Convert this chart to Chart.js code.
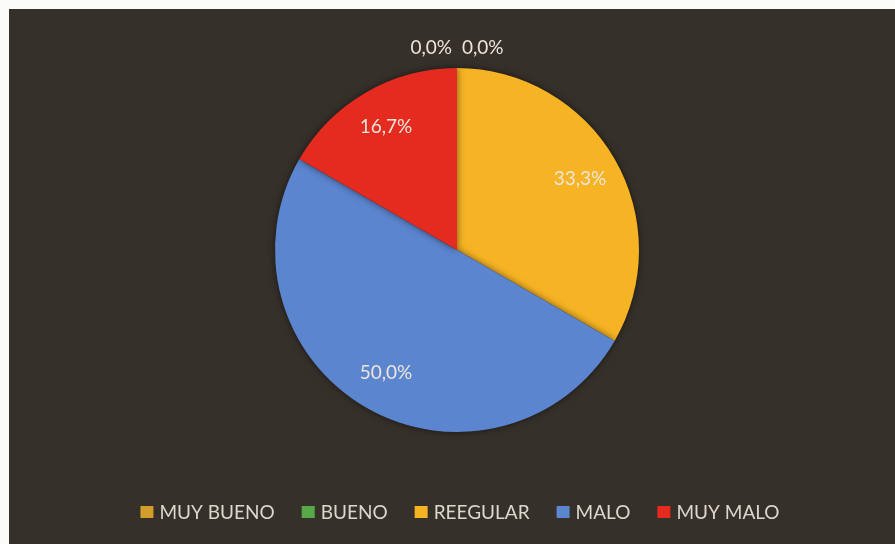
<!DOCTYPE html>
<html lang="es">
<head>
<meta charset="utf-8">
<title>Evaluación</title>
<script src="https://cdn.jsdelivr.net/npm/chart.js@4"></script>
<style>
  html, body { margin: 0; padding: 0; background: #fbfbf9; }
  #marco {
    position: absolute;
    left: 9px; top: 9px;
    width: 886px; height: 535px;
    background: #36302a;
  }
</style>
</head>
<body>
<div id="marco"><canvas id="graficaEvaluacion"></canvas></div>
<script>
// datos de la encuesta
const categorias = ['MUY BUENO', 'BUENO', 'REEGULAR', 'MALO', 'MUY MALO'];
const respuestas = [0, 0, 2, 3, 1];
const colores = ['#d19d2c', '#58a848', '#f6b324', '#5c85cf', '#e52b1f'];

const fuente = 'Lato, "Open Sans", sans-serif';

// etiquetas de porcentaje sobre cada rebanada (las de 0 van arriba, fuera)
const etiquetasPorcentaje = {
  id: 'etiquetasPorcentaje',
  afterDatasetsDraw(chart) {
    const ctx = chart.ctx;
    const meta = chart.getDatasetMeta(0);
    const datos = chart.data.datasets[0].data;
    const total = datos.reduce((a, b) => a + b, 0);
    const texto = v => (v / total * 100).toFixed(1).replace('.', ',') + '%';

    ctx.save();
    ctx.font = '19px ' + fuente;
    ctx.fillStyle = '#ebe5db';
    ctx.textBaseline = 'middle';

    const ceros = [];
    meta.data.forEach((arco, i) => {
      const { x, y, startAngle, endAngle, outerRadius } = arco.getProps(['x', 'y', 'startAngle', 'endAngle', 'outerRadius'], true);
      if (datos[i] === 0) {
        ceros.push({ x, y, ang: startAngle, r: outerRadius, txt: texto(datos[i]) });
        return;
      }
      const medio = (startAngle + endAngle) / 2;
      const r = outerRadius * 0.78;
      ctx.textAlign = 'center';
      ctx.fillText(texto(datos[i]), x + Math.cos(medio) * r, y + Math.sin(medio) * r);
    });

    // los ceros quedan juntos, en fila, encima del pastel
    if (ceros.length) {
      const sep = 10;
      const anchos = ceros.map(c => ctx.measureText(c.txt).width);
      const totalAncho = anchos.reduce((a, b) => a + b, 0) + sep * (ceros.length - 1);
      const c0 = ceros[0];
      let px = c0.x - totalAncho / 2;
      const py = c0.y + Math.sin(c0.ang) * (c0.r + 20);
      ctx.textAlign = 'left';
      ceros.forEach((c, i) => {
        ctx.fillText(c.txt, px, py);
        px += anchos[i] + sep;
      });
    }
    ctx.restore();
  }
};

// sombra suave bajo el pastel
const sombra = {
  id: 'sombra',
  beforeDatasetsDraw(chart) {
    const ctx = chart.ctx;
    ctx.save();
    ctx.shadowColor = 'rgba(0,0,0,0.55)';
    ctx.shadowBlur = 7;
  },
  afterDatasetsDraw(chart) {
    chart.ctx.restore();
  }
};

// leyenda abajo, centrada bajo el pastel
const leyenda = {
  id: 'leyenda',
  afterDraw(chart) {
    const ctx = chart.ctx;
    const caja = 13, hueco = 6, entre = 27;
    const centroX = chart.getDatasetMeta(0).data[0].x + 3;
    const centroY = 503;

    ctx.save();
    ctx.font = '19px ' + fuente;
    ctx.textBaseline = 'middle';
    ctx.textAlign = 'left';

    const anchos = categorias.map(c => ctx.measureText(c).width);
    const total = anchos.reduce((a, w) => a + caja + hueco + w, 0) + entre * (categorias.length - 1);
    let x = centroX - total / 2;

    categorias.forEach((cat, i) => {
      ctx.fillStyle = colores[i];
      ctx.fillRect(x, centroY - 6, caja, 12);
      ctx.fillStyle = '#dcd7ce';
      ctx.fillText(cat, x + caja + hueco, centroY + 1);
      x += caja + hueco + anchos[i] + entre;
    });
    ctx.restore();
  }
};

new Chart(document.getElementById('graficaEvaluacion'), {
  type: 'pie',
  data: {
    labels: categorias,
    datasets: [{
      data: respuestas,
      backgroundColor: colores,
      borderWidth: 0
    }]
  },
  options: {
    responsive: true,
    maintainAspectRatio: false,
    animation: false,
    layout: {
      padding: { top: 59, bottom: 112, left: 10, right: 0 }
    },
    plugins: {
      legend: { display: false },
      tooltip: { enabled: false }
    }
  },
  plugins: [sombra, etiquetasPorcentaje, leyenda]
});
</script>
</body>
</html>
